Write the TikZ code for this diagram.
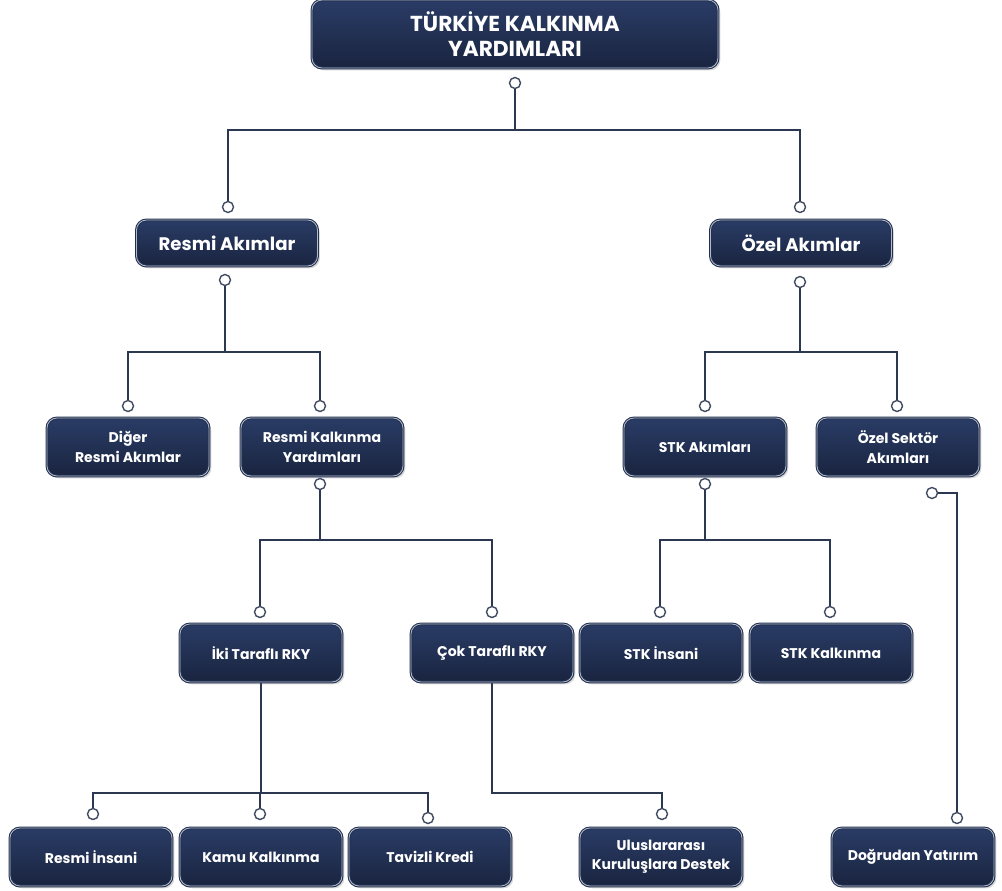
\documentclass[tikz,border=0pt]{standalone}
\usepackage{fontspec}
\setmainfont{Poppins}
\usetikzlibrary{positioning, shadows}
\definecolor{navytop}{HTML}{2A3C66}
\definecolor{navybot}{HTML}{19243F}
\definecolor{navyedge}{HTML}{223050}
\definecolor{rimline}{HTML}{B3BACA}
\definecolor{linkcol}{HTML}{2C3852}

\begin{document}
\begin{tikzpicture}[x=0.03cm, y=-0.03cm,
    box/.style={rectangle, rounded corners=0.3cm, top color=navytop, bottom color=navybot,
      draw=navyedge, double=rimline, double distance=0.7pt, line width=0.9pt,
      drop shadow={opacity=0.3, shadow xshift=2pt, shadow yshift=-2pt},
      text=white, align=center, inner sep=2pt,
      font=\fontsize{12}{16.5}\selectfont\bfseries},
    smallbox/.style={box, minimum width=4.86cm, minimum height=1.74cm},
    midbox/.style={box, minimum width=5.43cm, minimum height=1.38cm,
      font=\fontsize{15.5}{18}\selectfont\bfseries},
    topbox/.style={box, minimum width=12.18cm, minimum height=2.04cm,
      font=\fontsize{18.5}{21.5}\selectfont\bfseries},
    dot/.style={circle, draw=linkcol!90, fill=white, line width=1.2pt,
      inner sep=0pt, minimum size=0.33cm},
    link/.style={draw=linkcol, line width=1.3pt}]
    \useasboundingbox (0,0) rectangle (1002,890);

    % boxes
    \node[topbox] (root) at (515,34) {TÜRKİYE KALKINMA\\YARDIMLARI};
    \node[midbox] (resmi) at (227,243) {Resmi Akımlar};
    \node[midbox] (ozel) at (801,243) {Özel Akımlar};
    \node[smallbox] (diger) at (128,447) {Diğer\\Resmi Akımlar};
    \node[smallbox] (rky) at (322,447) {Resmi Kalkınma\\Yardımları};
    \node[smallbox] (stk) at (705,447) {STK Akımları};
    \node[smallbox] (ozs) at (898,447) {Özel Sektör\\Akımları};
    \node[smallbox] (iki) at (261,653) {İki Taraflı RKY};
    \node[smallbox] (cok) at (492,653) {Çok Taraflı RKY};
    \node[smallbox] (stki) at (661,653) {STK İnsani};
    \node[smallbox] (stkk) at (831,653) {STK Kalkınma};
    \node[smallbox] (rins) at (91,857) {Resmi İnsani};
    \node[smallbox] (kamu) at (261,857) {Kamu Kalkınma};
    \node[smallbox] (tav) at (430,857) {Tavizli Kredi};
    \node[smallbox] (ulus) at (661,857) {Uluslararası\\Kuruluşlara Destek};
    \node[smallbox] (dogr) at (913,857) {Doğrudan Yatırım};

    % dots
    \node[dot] (rootd) at (515,83) {};
    \node[dot] (resmiu) at (228,207) {};
    \node[dot] (ozelu) at (800,207) {};
    \node[dot] (resmid) at (225,280) {};
    \node[dot] (ozeld) at (800,282) {};
    \node[dot] (digeru) at (128,406) {};
    \node[dot] (rkyu) at (320,406) {};
    \node[dot] (rkyd) at (320,484) {};
    \node[dot] (stku) at (705,406) {};
    \node[dot] (ozsu) at (897,406) {};
    \node[dot] (stkd) at (705,484) {};
    \node[dot] (ozsd) at (932,493) {};
    \node[dot] (ikiu) at (260,612) {};
    \node[dot] (coku) at (492,612) {};
    \node[dot] (stkiu) at (660,612) {};
    \node[dot] (stkku) at (830,612) {};
    \node[dot] (rinsu) at (93,814) {};
    \node[dot] (kamuu) at (260,814) {};
    \node[dot] (tavu) at (428,818) {};
    \node[dot] (ulusu) at (662,814) {};
    \node[dot] (dogru) at (957,818) {};

    % junctions
    \coordinate (j0) at (515,130);
    \coordinate (j1) at (225,352);
    \coordinate (j2) at (800,352);
    \coordinate (j3) at (320,540);
    \coordinate (j4) at (705,540);
    \coordinate (j5) at (261,793);
    \coordinate (j6) at (492,793);

    \draw[link] (rootd) -- (j0) -| (resmiu);
    \draw[link] (j0) -| (ozelu);
    \draw[link] (resmid) -- (j1) -| (digeru);
    \draw[link] (j1) -| (rkyu);
    \draw[link] (ozeld) -- (j2) -| (stku);
    \draw[link] (j2) -| (ozsu);
    \draw[link] (rkyd) -- (j3) -| (ikiu);
    \draw[link] (j3) -| (coku);
    \draw[link] (stkd) -- (j4) -| (stkiu);
    \draw[link] (j4) -| (stkku);
    \draw[link] (iki) -- (j5) -| (rinsu);
    \draw[link] (j5) -| (kamuu);
    \draw[link] (j5) -| (tavu);
    \draw[link] (cok) -- (j6) -| (ulusu);
    \draw[link] (ozsd) -| (dogru);
\end{tikzpicture}
\end{document}
